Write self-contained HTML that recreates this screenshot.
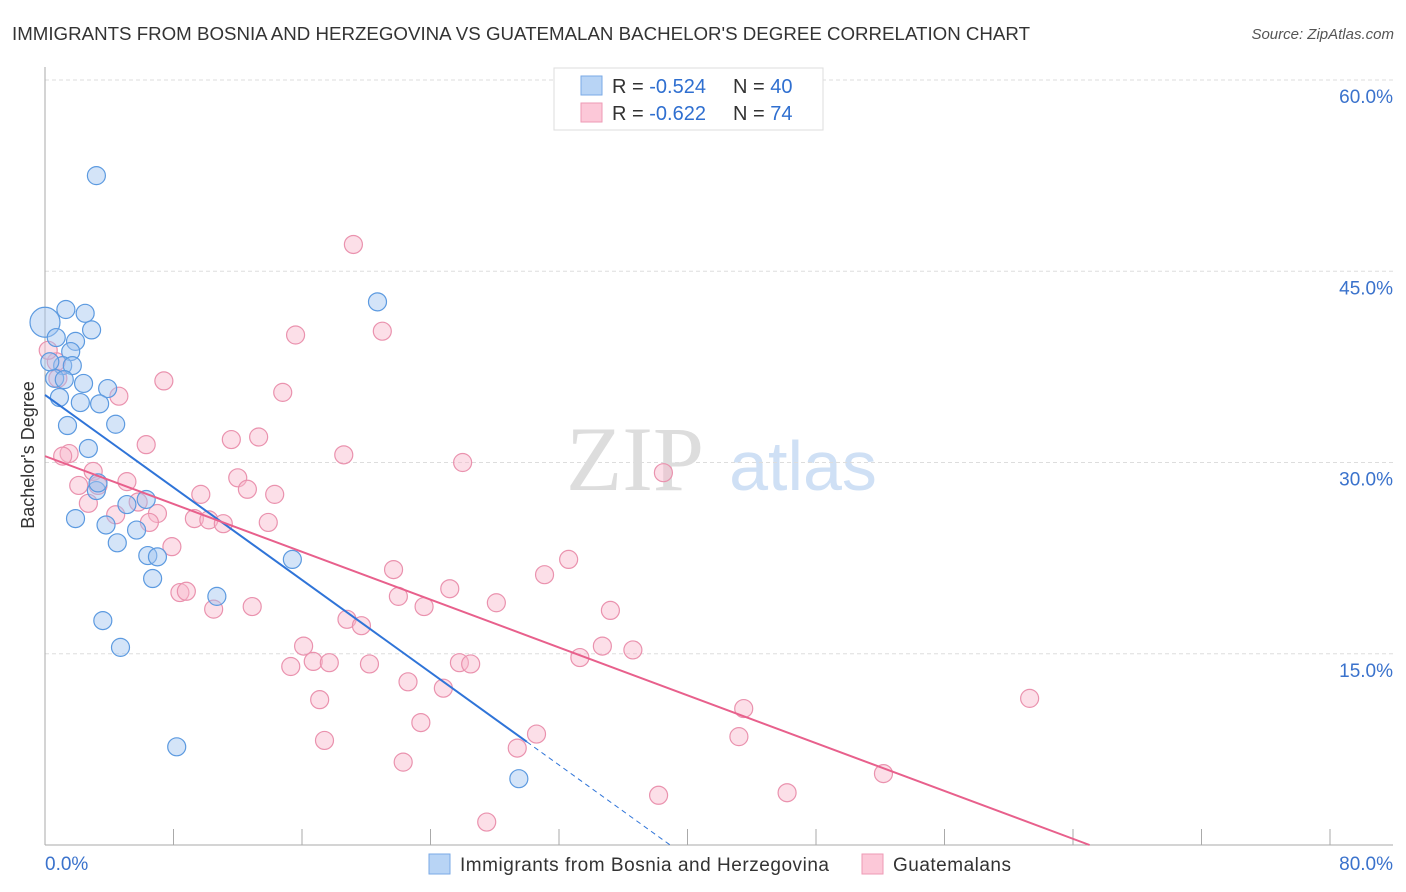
<!DOCTYPE html>
<html><head><meta charset="utf-8"><style>
body{margin:0;background:#fff;font-family:"Liberation Sans",sans-serif;}
svg{display:block}
</style></head><body>
<svg id="chart" width="1406" height="892" viewBox="0 0 1406 892">
<text x="12" y="40" font-size="18" fill="#333" textLength="1018" lengthAdjust="spacingAndGlyphs">IMMIGRANTS FROM BOSNIA AND HERZEGOVINA VS GUATEMALAN BACHELOR'S DEGREE CORRELATION CHART</text>
<text x="1394" y="39" font-size="15" fill="#555" font-style="italic" text-anchor="end">Source: ZipAtlas.com</text>
<g>
<text x="635" y="490" font-size="92" font-family="Liberation Serif,serif" fill="#ddd" text-anchor="middle">ZIP</text>
<text x="803" y="490" font-size="70" fill="#cfe0f5" text-anchor="middle">atlas</text>
</g>
<g id="grid"></g>
<g id="axes"></g>
<g id="pts"></g>
<g id="lines"></g>
<text transform="translate(34,455) rotate(-90)" font-size="18" fill="#333" text-anchor="middle">Bachelor's Degree</text>
<g>
<rect x="554" y="68" width="269" height="62" fill="#fff" stroke="#ddd"/>
<rect x="581" y="76" width="21" height="19" fill="#b8d4f5" stroke="#7aaae6"/>
<rect x="581" y="103" width="21" height="19" fill="#fcc8d8" stroke="#ee9ab5"/>
<text x="612" y="93" font-size="20" fill="#333">R = <tspan fill="#2f6fd0">-0.524</tspan><tspan x="733">N = </tspan><tspan fill="#2f6fd0">40</tspan></text>
<text x="612" y="120" font-size="20" fill="#333">R = <tspan fill="#2f6fd0">-0.622</tspan><tspan x="733">N = </tspan><tspan fill="#2f6fd0"> 74</tspan></text>
</g>
<g>
<rect x="429" y="854" width="21" height="20" fill="#b8d4f5" stroke="#7aaae6"/>
<text x="460" y="871" font-size="19" fill="#333" textLength="369">Immigrants from Bosnia and Herzegovina</text>
<rect x="862" y="854" width="21" height="20" fill="#fcc8d8" stroke="#ee9ab5"/>
<text x="893" y="871" font-size="19" fill="#333" textLength="118">Guatemalans</text>
</g>
</svg>
<script>
const yTicks=[15,30,45,60];
const yTickLabels=["15.0%","30.0%","45.0%","60.0%"];
const xTickLabels=["0.0%","80.0%"];
const blueX=[3.2,1.3,2.5,2.9,0,0.7,1.9,1.6,1.1,1.7,0.6,1.2,2.4,3.9,0.9,2.2,3.4,4.4,1.4,2.7,3.2,3.3,1.9,5.1,6.3,3.8,5.7,4.5,6.4,7.0,6.7,15.4,10.7,3.6,4.7,8.2,20.7,29.5,0.3];
const blueY=[52.5,42.0,41.7,40.4,41.0,39.8,39.5,38.7,37.6,37.6,36.6,36.5,36.2,35.8,35.1,34.7,34.6,33.0,32.9,31.1,27.8,28.4,25.6,26.7,27.1,25.1,24.7,23.7,22.7,22.6,20.9,22.4,19.5,17.6,15.5,7.7,42.6,5.2,37.9];
const pinkX=[19.2,15.6,21.0,7.4,14.8,4.6,6.3,11.6,13.3,18.6,26.0,38.5,1.5,1.1,3.0,2.1,3.3,5.1,12.0,12.6,9.7,14.3,2.7,4.4,5.8,7.0,6.5,9.3,10.2,11.1,13.9,7.9,32.6,21.7,31.1,25.2,8.4,8.8,22.0,28.1,12.9,10.5,23.6,35.2,18.8,19.7,16.1,34.7,36.6,33.3,15.3,16.7,17.7,20.2,25.8,26.5,22.6,24.8,17.1,61.3,43.5,23.4,43.2,17.4,30.6,29.4,22.3,52.2,38.2,46.2,27.5,0.7,0.8,0.2];
const pinkY=[47.1,40.0,40.3,36.4,35.5,35.2,31.4,31.8,32.0,30.6,30.0,29.2,30.7,30.5,29.3,28.2,28.2,28.5,28.8,27.9,27.5,27.5,26.8,25.9,26.9,26.0,25.3,25.6,25.5,25.2,25.3,23.4,22.4,21.6,21.2,20.1,19.8,19.9,19.5,19.0,18.7,18.5,18.7,18.4,17.7,17.2,15.6,15.6,15.3,14.7,14.0,14.4,14.3,14.2,14.3,14.2,12.8,12.3,11.4,11.5,10.7,9.6,8.5,8.2,8.7,7.6,6.5,5.6,3.9,4.1,1.8,37.9,36.6,38.8];
const blueTrend=[35.3,-0.907,30];
const pinkTrend=[30.5,-0.469];
const NS="http://www.w3.org/2000/svg";
const X=v=>45+v*(1285/80);
const Y=v=>845-v*(765/60);
function mk(t,a,p){const e=document.createElementNS(NS,t);for(const k in a)e.setAttribute(k,a[k]);p.appendChild(e);return e;}
const grid=document.getElementById('grid'),axes=document.getElementById('axes'),pts=document.getElementById('pts'),lines=document.getElementById('lines');
yTicks.forEach((t,i)=>{
 const l=mk('line',{x1:45,x2:1393,y1:Y(t),y2:Y(t),stroke:'#ddd','stroke-dasharray':'4,3'},grid);
 
 
 const tx=mk('text',{x:1393,y:Y(t)+23,'font-size':19,fill:'#3a72cc','text-anchor':'end'},axes);
 tx.textContent=yTickLabels[i];
 
 
});
const ya=mk('line',{x1:45,x2:45,y1:67,y2:845,stroke:'#aaa'},axes);


const xa=mk('line',{x1:45,x2:1393,y1:845,y2:845,stroke:'#aaa'},axes);


for(let i=0;i<=10;i++){
 const t=mk('line',{x1:X(i*8),x2:X(i*8),y1:829,y2:845,stroke:'#aaa'},axes);
 
 
}
[[0,'start',45],[80,'end',1393]].forEach((d,i)=>{
 const t=mk('text',{x:d[2],y:870,'font-size':19,fill:'#3a72cc','text-anchor':d[1]},axes);
 t.textContent=xTickLabels[i];
 
 
});
function dots(xs,ys,fill,stroke,name){
 xs.forEach((x,i)=>{
  const c=mk('circle',{cx:X(x),cy:Y(ys[i]),r:(x===0?15:9),fill:fill,stroke:stroke,'stroke-width':1.2},pts);
  
  
 });
}
dots(pinkX,pinkY,'rgba(248,185,205,0.45)','#ea92ae','guatemalan-point');
dots(blueX,blueY,'rgba(160,196,240,0.45)','#5c9ae0','bosnia-point');
const bEndDash=-blueTrend[0]/blueTrend[1];
const b1=mk('line',{x1:X(0),y1:Y(blueTrend[0]),x2:X(blueTrend[2]),y2:Y(blueTrend[0]+blueTrend[1]*blueTrend[2]),stroke:'#2f74d8','stroke-width':2},lines);


const b2=mk('line',{x1:X(blueTrend[2]),y1:Y(blueTrend[0]+blueTrend[1]*blueTrend[2]),x2:X(bEndDash),y2:Y(0),stroke:'#2f74d8','stroke-width':1,'stroke-dasharray':'5,4'},lines);


const pEnd=-pinkTrend[0]/pinkTrend[1];
const p1=mk('line',{x1:X(0),y1:Y(pinkTrend[0]),x2:X(pEnd),y2:Y(0),stroke:'#e8608c','stroke-width':2},lines);


</script>
</body></html>
